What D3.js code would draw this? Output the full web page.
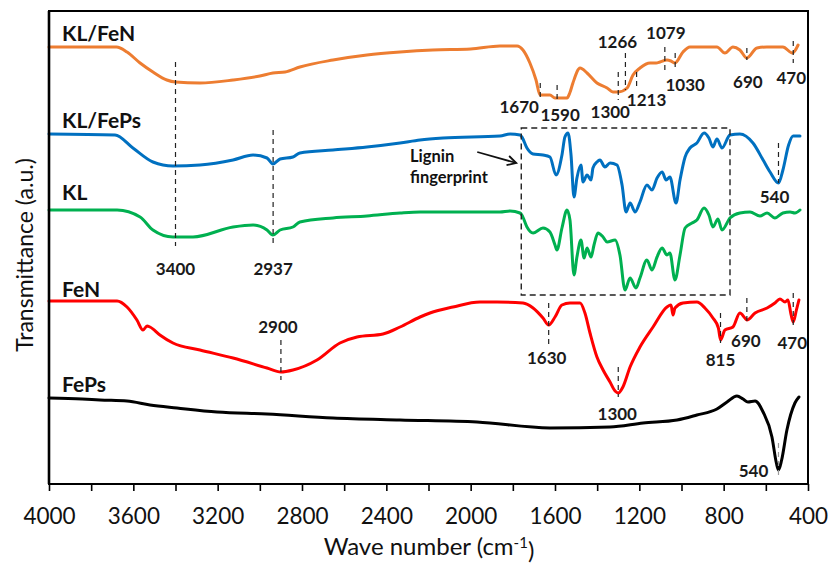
<!DOCTYPE html>
<html>
<head>
<meta charset="utf-8">
<script src="https://cdn.jsdelivr.net/npm/d3@7"></script>
<style>
  body { margin: 0; background: #fff; }
  svg { display: block; }
  text { font-family: Lato, "Open Sans", "DejaVu Sans", sans-serif; }
</style>
</head>
<body>
<svg id="chart" width="830" height="563"></svg>
<script>
// FTIR spectra: [wavenumber (cm-1), transmittance (a.u., stacked with offsets)]
const klFeN = [
  [4000, 4.37], [3680, 4.37], [3630, 4.32], [3568, 4.21], [3507, 4.12], [3441, 4.04],
  [3400, 4.02], [3284, 4.01], [3127, 4.04], [3000, 4.08], [2938, 4.11], [2880, 4.12],
  [2810, 4.17], [2653, 4.24], [2492, 4.29], [2335, 4.32], [2180, 4.34], [2000, 4.35],
  [1861, 4.38], [1780, 4.38], [1752, 4.34], [1719, 4.21], [1690, 4.04], [1671, 3.89],
  [1650, 3.89], [1624, 3.89], [1600, 3.86], [1586, 3.86], [1543, 3.86], [1530, 3.91],
  [1515, 4.01], [1481, 4.16], [1448, 4.11], [1401, 4.01], [1353, 3.96], [1325, 3.92],
  [1300, 3.92], [1258, 3.96], [1230, 4.09], [1197, 4.16], [1149, 4.21], [1120, 4.21],
  [1102, 4.22], [1069, 4.24], [1050, 4.23], [1031, 4.21], [993, 4.32], [960, 4.37],
  [832, 4.37], [794, 4.31], [756, 4.37], [723, 4.34], [690, 4.26], [642, 4.36],
  [595, 4.37], [519, 4.37], [474, 4.31], [447, 4.39]
];

const klFePs = [
  [4000, 3.50], [3687, 3.49], [3602, 3.36], [3507, 3.22], [3412, 3.18], [3284, 3.19],
  [3127, 3.24], [3032, 3.29], [2966, 3.26], [2938, 3.20], [2904, 3.25], [2843, 3.27],
  [2810, 3.31], [2653, 3.34], [2492, 3.37], [2335, 3.41], [2240, 3.44], [2131, 3.46],
  [1861, 3.48], [1813, 3.50], [1766, 3.49], [1757, 3.47], [1733, 3.36], [1704, 3.30],
  [1657, 3.29], [1624, 3.27], [1595, 3.09], [1567, 3.29], [1553, 3.47], [1538, 3.51],
  [1524, 3.29], [1510, 2.87], [1496, 3.06], [1477, 3.19], [1467, 3.02], [1448, 3.09],
  [1429, 3.04], [1420, 3.16], [1401, 3.22], [1387, 3.24], [1363, 3.17], [1339, 3.21],
  [1306, 3.19], [1282, 2.99], [1263, 2.72], [1244, 2.81], [1220, 2.72], [1197, 2.82],
  [1164, 2.99], [1140, 2.94], [1116, 3.06], [1092, 3.12], [1073, 3.04], [1055, 3.07],
  [1026, 2.81], [1007, 3.04], [983, 3.27], [960, 3.36], [927, 3.41], [893, 3.51],
  [870, 3.46], [851, 3.37], [832, 3.45], [808, 3.36], [770, 3.49], [723, 3.50],
  [661, 3.41], [613, 3.24], [580, 3.12], [540, 3.01], [519, 3.14], [492, 3.39],
  [471, 3.48], [438, 3.48]
];

const kl = [
  [4000, 2.74], [3677, 2.74], [3568, 2.67], [3507, 2.54], [3412, 2.47], [3317, 2.47],
  [3127, 2.57], [3032, 2.59], [2966, 2.54], [2938, 2.49], [2904, 2.54], [2843, 2.57],
  [2810, 2.62], [2653, 2.66], [2492, 2.68], [2335, 2.71], [2240, 2.72], [2131, 2.72],
  [1861, 2.72], [1813, 2.73], [1766, 2.71], [1757, 2.69], [1733, 2.57], [1704, 2.51],
  [1657, 2.56], [1624, 2.52], [1600, 2.39], [1591, 2.34], [1567, 2.56], [1543, 2.74],
  [1529, 2.64], [1510, 2.09], [1496, 2.27], [1477, 2.44], [1462, 2.26], [1448, 2.36],
  [1429, 2.27], [1415, 2.39], [1396, 2.51], [1372, 2.47], [1353, 2.42], [1315, 2.44],
  [1292, 2.29], [1268, 1.94], [1244, 2.06], [1216, 1.96], [1197, 2.06], [1164, 2.24],
  [1140, 2.14], [1116, 2.27], [1092, 2.36], [1069, 2.29], [1055, 2.31], [1031, 2.04],
  [1007, 2.29], [983, 2.56], [950, 2.61], [927, 2.64], [893, 2.76], [870, 2.69],
  [851, 2.57], [827, 2.65], [808, 2.54], [770, 2.66], [723, 2.71], [675, 2.72],
  [628, 2.68], [594, 2.71], [557, 2.66], [519, 2.71], [485, 2.72], [462, 2.71],
  [438, 2.74]
];

const feN = [
  [4000, 1.83], [3677, 1.83], [3630, 1.77], [3583, 1.64], [3554, 1.54], [3535, 1.58],
  [3521, 1.57], [3474, 1.49], [3412, 1.41], [3284, 1.34], [3127, 1.26], [2966, 1.16],
  [2900, 1.12], [2843, 1.14], [2729, 1.24], [2620, 1.41], [2539, 1.47], [2416, 1.50],
  [2335, 1.57], [2240, 1.67], [2193, 1.71], [2084, 1.77], [1956, 1.82], [1875, 1.82],
  [1752, 1.81], [1704, 1.76], [1657, 1.66], [1630, 1.59], [1600, 1.67], [1567, 1.79],
  [1529, 1.81], [1481, 1.81], [1458, 1.71], [1434, 1.51], [1401, 1.27], [1372, 1.14],
  [1339, 1.02], [1315, 0.93], [1300, 0.91], [1278, 0.97], [1244, 1.17], [1197, 1.37],
  [1135, 1.57], [1069, 1.77], [1050, 1.79], [1040, 1.69], [1031, 1.76], [993, 1.81],
  [927, 1.82], [889, 1.76], [851, 1.66], [825, 1.56], [815, 1.44], [794, 1.54],
  [756, 1.57], [723, 1.71], [699, 1.66], [690, 1.64], [651, 1.71], [594, 1.76],
  [557, 1.81], [533, 1.85], [509, 1.82], [495, 1.84], [480, 1.69], [470, 1.62],
  [455, 1.74], [443, 1.84]
];

const fePs = [
  [4000, 0.86], [3843, 0.85], [3758, 0.84], [3630, 0.83], [3521, 0.79], [3393, 0.76],
  [3203, 0.72], [2966, 0.70], [2653, 0.66], [2335, 0.64], [1970, 0.62], [1624, 0.56],
  [1339, 0.57], [1182, 0.61], [1021, 0.64], [927, 0.69], [832, 0.75], [784, 0.82],
  [737, 0.88], [708, 0.85], [685, 0.82], [651, 0.83], [613, 0.72], [571, 0.47],
  [550, 0.21], [540, 0.14], [525, 0.24], [500, 0.54], [462, 0.81], [443, 0.87]
];

// Marked band positions (cm-1) for each spectrum
const klFeNPeaks = [1670, 1590, 1300, 1266, 1213, 1079, 1030, 690, 470];
const klPeaks = [3400, 2937];
const klFePsPeaks = [540];
const feNPeaks = [2900, 1630, 1300, 815, 690, 470];
const fePsPeaks = [540];

const xTicks = d3.range(4000, 399, -200);
const seriesNames = ["KL/FeN", "KL/FePs", "KL", "FeN", "FePs"];
const seriesColors = ["#ED7D31", "#0070C0", "#00B050", "#FF0000", "#000000"];

// ---- layout ----
const svg = d3.select("#chart");
const plotL = 49, plotR = 808, plotT = 11, plotB = 484;

const x = d3.scaleLinear().domain([4000, 400]).range([plotL, plotR]);
const y = d3.scaleLinear().domain([0, 4.73]).range([plotB, plotT]);

// dashed marker lines and number labels: wn -> [yTop, yBottom, labelY, labelDx]
const peakLayout = {
  "KL/FeN": {
    1670: [4.01, 3.86, 3.77, -21], 1590: [3.99, 3.84, 3.69, 3], 1300: [4.12, 3.84, 3.72, -8],
    1266: [4.31, 3.94, 4.42, -8], 1213: [4.12, 3.97, 3.84, 10], 1079: [4.37, 4.11, 4.51, 1],
    1030: [4.31, 4.17, 3.99, 10], 690: [4.36, 4.24, 4.02, 1], 470: [4.43, 4.21, 4.06, -2]
  },
  "KL": { 3400: [4.22, 2.38, 2.15, 0], 2937: [3.54, 2.41, 2.15, 0] },
  "KL/FePs": { 540: [3.41, 3.01, 2.87, -4] },
  "FeN": {
    2900: [1.44, 1.04, 1.57, -3], 1630: [1.81, 1.39, 1.26, -2], 1300: [1.17, 0.87, 0.70, -1],
    815: [1.71, 1.41, 1.24, 0], 690: [1.86, 1.61, 1.43, -1], 470: [1.91, 1.57, 1.41, -1]
  },
  "FePs": { 540: [0.41, 0.06, 0.13, -25] }
};

const series = [
  { name: seriesNames[0], color: seriesColors[0], data: klFeN, peaks: klFeNPeaks, labelY: 41 },
  { name: seriesNames[1], color: seriesColors[1], data: klFePs, peaks: klFePsPeaks, labelY: 128 },
  { name: seriesNames[2], color: seriesColors[2], data: kl, peaks: klPeaks, labelY: 200 },
  { name: seriesNames[3], color: seriesColors[3], data: feN, peaks: feNPeaks, labelY: 297 },
  { name: seriesNames[4], color: seriesColors[4], data: fePs, peaks: fePsPeaks, labelY: 392 }
];

// x axis with minor ticks every 200, labels every 400
const xAxis = d3.axisBottom(x)
  .tickValues(xTicks)
  .tickSize(7)
  .tickPadding(17)
  .tickFormat(d => d % 400 === 0 ? d : "");
const gx = svg.append("g").attr("transform", `translate(0,${plotB})`).call(xAxis);
gx.select(".domain").remove();
gx.selectAll(".tick line").attr("stroke", "#000").attr("stroke-width", 1.6);
gx.selectAll(".tick text")
  .attr("fill", "#111")
  .style("font-size", "22.5px")
  .style("font-family", "Lato, 'Open Sans', sans-serif");

// spectra
const line = d3.line()
  .x(d => x(d[0]))
  .y(d => y(d[1]))
  .curve(d3.curveMonotoneX);

svg.append("g").selectAll("path")
  .data(series)
  .join("path")
  .attr("d", d => line(d.data))
  .attr("fill", "none")
  .attr("stroke", d => d.color)
  .attr("stroke-width", 3)
  .attr("stroke-linejoin", "round")
  .attr("stroke-linecap", "round");

// band markers
const marks = svg.append("g");
series.forEach(s => {
  s.peaks.forEach(wn => {
    const [y0, y1, ly, dx] = peakLayout[s.name][wn];
    marks.append("line")
      .attr("x1", x(wn)).attr("x2", x(wn))
      .attr("y1", y(y0)).attr("y2", y(y1))
      .attr("stroke", s.name === "FePs" ? "#9a9a9a" : "#222")
      .attr("stroke-width", 1.2)
      .attr("stroke-dasharray", "5,4");
    marks.append("text")
      .attr("x", x(wn) + dx)
      .attr("y", y(ly))
      .attr("dy", "0.36em")
      .attr("text-anchor", "middle")
      .attr("fill", "#1a1a1a")
      .style("font-size", "17px")
      .style("font-weight", "bold")
      .text(wn);
  });
});

// series names
svg.append("g").selectAll("text")
  .data(series)
  .join("text")
  .attr("x", 62)
  .attr("y", d => d.labelY)
  .attr("fill", "#111")
  .style("font-size", "21px")
  .style("font-weight", "bold")
  .text(d => d.name);

// fingerprint region box
const boxL = x(1760), boxR = x(770), boxT = y(3.56), boxB = y(1.89);
svg.append("rect")
  .attr("x", boxL).attr("y", boxT)
  .attr("width", boxR - boxL).attr("height", boxB - boxT)
  .attr("fill", "none")
  .attr("stroke", "#222")
  .attr("stroke-width", 1.4)
  .attr("stroke-dasharray", "6,4");

// arrow pointing at the box
const ax0 = boxL - 44, ay0 = y(3.32), ax1 = boxL - 5, ay1 = y(3.21);
svg.append("line")
  .attr("x1", ax0).attr("y1", ay0).attr("x2", ax1).attr("y2", ay1)
  .attr("stroke", "#111").attr("stroke-width", 1.8);
const ang = Math.atan2(ay1 - ay0, ax1 - ax0);
const hl = 10, ha = 0.5;
svg.append("path")
  .attr("d", `M${ax1 - hl * Math.cos(ang - ha)},${ay1 - hl * Math.sin(ang - ha)} L${ax1},${ay1} L${ax1 - hl * Math.cos(ang + ha)},${ay1 - hl * Math.sin(ang + ha)}`)
  .attr("fill", "none").attr("stroke", "#111").attr("stroke-width", 1.8)
  .attr("stroke-linejoin", "miter");

const note = svg.append("text")
  .attr("x", 410)
  .attr("fill", "#111")
  .style("font-size", "16.5px")
  .style("font-weight", "bold");
note.append("tspan").attr("x", 410).attr("y", 162).text("Lignin");
note.append("tspan").attr("x", 410).attr("y", 183).text("fingerprint");

// frame
svg.append("rect")
  .attr("x", plotL).attr("y", plotT)
  .attr("width", plotR - plotL).attr("height", plotB - plotT)
  .attr("fill", "none").attr("stroke", "#000").attr("stroke-width", 2);
svg.append("line")
  .attr("x1", plotL).attr("x2", plotL).attr("y1", plotT).attr("y2", plotB)
  .attr("stroke", "#000").attr("stroke-width", 2.6);

// axis titles
const xt = svg.append("text")
  .attr("x", (plotL + plotR) / 2 + 0.5)
  .attr("y", 555)
  .attr("text-anchor", "middle")
  .attr("fill", "#111")
  .style("font-size", "24px");
xt.append("tspan").text("Wave number (cm");
xt.append("tspan").attr("dy", "-0.45em").style("font-size", "15px").text("-1");
xt.append("tspan").attr("dy", "0.45em").text(")");

svg.append("text")
  .attr("transform", `translate(33,255) rotate(-90)`)
  .attr("text-anchor", "middle")
  .attr("fill", "#111")
  .style("font-size", "23px")
  .text("Transmittance (a.u.)");
</script>
</body>
</html>
